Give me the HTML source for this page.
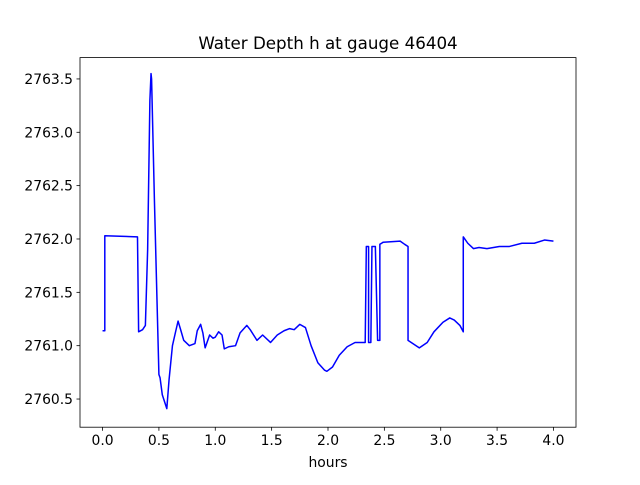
<!DOCTYPE html>
<html><head><meta charset="utf-8"><style>
body{margin:0;background:#fff;width:640px;height:480px;overflow:hidden}
text{font-family:"DejaVu Sans","Liberation Sans",sans-serif;fill:#000}
</style></head><body>
<svg id="chart" width="640" height="480" xmlns="http://www.w3.org/2000/svg">
<rect x="0" y="0" width="640" height="480" fill="#fff"/>
<text x="328" y="49" font-size="16.7" text-anchor="middle">Water Depth h at gauge 46404</text>
<g id="plot"></g>
<g id="axes"></g>
<text x="328" y="467" font-size="13.9" text-anchor="middle">hours</text>
</svg>
<script>
const hours=[0,0.02,0.02,0.31,0.32,0.355,0.38,0.40,0.42,0.43,0.435,0.46,0.50,0.51,0.53,0.57,0.59,0.62,0.65,0.67,0.69,0.72,0.77,0.82,0.84,0.87,0.89,0.91,0.95,0.98,1.0,1.03,1.06,1.08,1.12,1.18,1.22,1.28,1.31,1.37,1.42,1.49,1.55,1.61,1.66,1.70,1.75,1.80,1.85,1.91,1.97,1.99,2.04,2.10,2.17,2.24,2.30,2.33,2.34,2.36,2.36,2.38,2.39,2.42,2.44,2.46,2.46,2.49,2.64,2.68,2.71,2.71,2.81,2.88,2.94,3.02,3.08,3.12,3.17,3.20,3.20,3.24,3.29,3.34,3.41,3.52,3.61,3.72,3.83,3.92,4.00];
const depth=[2761.14,2761.14,2762.03,2762.02,2761.13,2761.15,2761.19,2761.9,2763.3,2763.55,2763.5,2762.37,2760.73,2760.70,2760.54,2760.41,2760.68,2761.0,2761.14,2761.23,2761.16,2761.05,2761.0,2761.02,2761.14,2761.2,2761.12,2760.98,2761.1,2761.07,2761.08,2761.13,2761.1,2760.97,2760.99,2761.0,2761.12,2761.19,2761.15,2761.05,2761.1,2761.03,2761.1,2761.14,2761.16,2761.15,2761.2,2761.17,2761.0,2760.84,2760.77,2760.76,2760.8,2760.91,2760.99,2761.03,2761.03,2761.03,2761.93,2761.93,2761.03,2761.03,2761.93,2761.93,2761.05,2761.05,2761.95,2761.97,2761.98,2761.95,2761.93,2761.05,2760.98,2761.03,2761.13,2761.22,2761.26,2761.24,2761.19,2761.13,2762.02,2761.96,2761.91,2761.92,2761.91,2761.93,2761.93,2761.96,2761.96,2761.99,2761.98];
const xTicks=[0,0.5,1,1.5,2,2.5,3,3.5,4];
const xTickLabels=["0.0","0.5","1.0","1.5","2.0","2.5","3.0","3.5","4.0"];
const yTicks=[2760.5,2761,2761.5,2762,2762.5,2763,2763.5];
const yTickLabels=["2760.5","2761.0","2761.5","2762.0","2762.5","2763.0","2763.5"];

const L=80,R=576,T=57.6,B=427.2;
const x0=-0.2,x1=4.2,y0=2760.236,y1=2763.70;
const sx=v=>L+(v-x0)/(x1-x0)*(R-L);
const sy=v=>B-(v-y0)/(y1-y0)*(B-T);
const NS="http://www.w3.org/2000/svg";
const plot=document.getElementById('plot'),axes=document.getElementById('axes');
function mk(t,a,p){const e=document.createElementNS(NS,t);for(const k in a)e.setAttribute(k,a[k]);p.appendChild(e);return e;}

const line=mk('polyline',{points:hours.map((h,i)=>sx(h).toFixed(2)+','+sy(depth[i]).toFixed(2)).join(' '),fill:'none',stroke:'#0000ff','stroke-width':1.5,'stroke-linejoin':'round'},plot);



const frame=mk('rect',{x:L,y:T,width:R-L,height:B-T,fill:'none',stroke:'#000','stroke-width':0.8},axes);



xTicks.forEach((v,i)=>{
  const tk=mk('line',{x1:sx(v),x2:sx(v),y1:B,y2:B+3.5,stroke:'#000','stroke-width':0.8},axes);
  
  
  const t=mk('text',{x:sx(v),y:B+18,'font-size':13.9,'text-anchor':'middle'},axes);
  t.textContent=xTickLabels[i];
  
  
});
yTicks.forEach((v,i)=>{
  const tk=mk('line',{x1:L-3.5,x2:L,y1:sy(v),y2:sy(v),stroke:'#000','stroke-width':0.8},axes);
  
  
  const t=mk('text',{x:L-7,y:sy(v)+5,'font-size':13.9,'text-anchor':'end'},axes);
  t.textContent=yTickLabels[i];
  
  
});
</script>
</body></html>
